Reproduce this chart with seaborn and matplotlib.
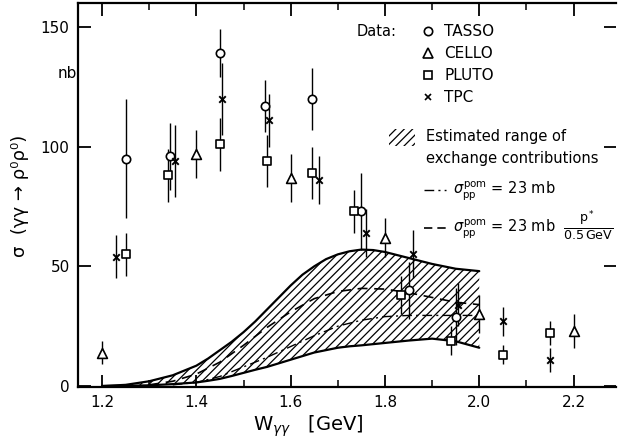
import numpy as np
import pandas as pd
import matplotlib
matplotlib.use("Agg")
import matplotlib.pyplot as plt
from matplotlib.patches import Rectangle
import seaborn as sns

# Measurements (W in GeV, sigma in nb, symmetric error)
tasso_w = [1.25, 1.345, 1.45, 1.545, 1.645, 1.75, 1.85, 1.95]
tasso_s = [95, 96, 139, 117, 120, 73, 40, 29]
tasso_e = [25, 14, 10, 11, 13, 16, 12, 12]

cello_w = [1.20, 1.40, 1.60, 1.80, 2.00, 2.20]
cello_s = [14, 97, 87, 62, 30, 23]
cello_e = [5, 10, 10, 8, 8, 7]

pluto_w = [1.25, 1.34, 1.45, 1.55, 1.645, 1.735, 1.835, 1.94, 2.05, 2.15]
pluto_s = [55, 88, 101, 94, 89, 73, 38, 19, 13, 22]
pluto_e = [9, 11, 11, 11, 11, 9, 8, 6, 4, 5]

tpc_w = [1.23, 1.355, 1.455, 1.555, 1.66, 1.76, 1.86, 1.955, 2.05, 2.15]
tpc_s = [54, 94, 120, 111, 86, 64, 55, 34, 27, 11]
tpc_e = [9, 15, 15, 11, 10, 10, 10, 9, 6, 5]

# Estimated range of exchange contributions
band_w = [1.20, 1.25, 1.30, 1.35, 1.40, 1.425, 1.45, 1.475, 1.50, 1.525, 1.55,
          1.575, 1.60, 1.625, 1.65, 1.675, 1.70, 1.725, 1.75, 1.775, 1.80,
          1.85, 1.90, 1.95, 2.00]
band_hi = [0, 0.5, 2, 4.5, 8.5, 11.5, 15, 18.5, 22.5, 27, 32, 37, 42, 46.5, 50,
           53, 55, 56.3, 57, 56.8, 56, 53.5, 51, 49, 48]
band_lo = [0, 0.1, 0.3, 0.8, 1.5, 2.2, 3, 4.2, 5.5, 6.8, 8, 9.5, 11, 12.5, 14,
           15, 16, 16.6, 17, 17.5, 18, 19, 19.8, 18.7, 16]

# sigma_pp^pom = 23 mb * p*/0.5 GeV (dashed)
dash_w = [1.30, 1.35, 1.40, 1.45, 1.50, 1.55, 1.60, 1.65, 1.70, 1.75,
          1.80, 1.85, 1.90, 1.95, 2.00]
dash_s = [0.5, 2, 5, 10, 17, 24.5, 31, 36.5, 39.5, 40.8, 40.5, 39, 37, 35, 34]

# sigma_pp^pom = 23 mb (dash-dot)
dashdot_w = [1.35, 1.40, 1.45, 1.50, 1.55, 1.60, 1.65, 1.70, 1.75,
             1.80, 1.85, 1.90, 1.95, 2.00]
dashdot_s = [0.5, 1.5, 4, 8, 12, 16.5, 21, 25, 27.5, 29, 29.5, 29.5, 29.5, 29.5]

sns.set_style("ticks")
plt.rcParams["font.family"] = ["DejaVu Sans"]
plt.rcParams["mathtext.fontset"] = "dejavusans"
plt.rcParams["hatch.linewidth"] = 0.9
for k in ["text.color", "axes.labelcolor", "axes.edgecolor", "xtick.color", "ytick.color"]:
    plt.rcParams[k] = "black"

W, H = 618, 447


def fx(px):
    return px / W


def fy(py):
    return 1 - py / H


fig = plt.figure(figsize=(W / 100, H / 100), dpi=100)
ax = fig.add_axes([fx(78), fy(387), 538 / W, 384 / H])

# hatched band + curves
ax.fill_between(band_w, band_lo, band_hi, facecolor="none", edgecolor="black",
                hatch="////", linewidth=0)
sns.lineplot(x=band_w, y=band_hi, color="black", lw=1.6, ax=ax)
sns.lineplot(x=band_w, y=band_lo, color="black", lw=1.6, ax=ax)
sns.lineplot(x=dash_w, y=dash_s, color="black", lw=1.2, ax=ax, linestyle=(0, (6, 4)))
sns.lineplot(x=dashdot_w, y=dashdot_s, color="black", lw=1.0, ax=ax,
             linestyle=(0, (7, 3, 1.5, 3)))

series = {
    "TASSO": (tasso_w, tasso_s, tasso_e, "o", 36),
    "CELLO": (cello_w, cello_s, cello_e, "^", 50),
    "PLUTO": (pluto_w, pluto_s, pluto_e, "s", 34),
    "TPC": (tpc_w, tpc_s, tpc_e, "x", 22),
}
for name, (w, s, e, m, size) in series.items():
    ax.errorbar(w, s, yerr=e, fmt="none", ecolor="black", elinewidth=1.0,
                capsize=0, zorder=3)
    df = pd.DataFrame({"w": w, "s": s})
    if m == "x":
        sns.scatterplot(data=df, x="w", y="s", marker="x", color="black", s=size,
                        linewidth=1.4, ax=ax, zorder=4)
    else:
        sns.scatterplot(data=df, x="w", y="s", marker=m, color="white",
                        edgecolor="black", s=size, linewidth=1.2, ax=ax, zorder=4)

ax.set_xlim(1.149, 2.29)
ax.set_ylim(-0.4, 160)
ax.set_xticks([1.2, 1.4, 1.6, 1.8, 2.0, 2.2])
ax.set_xticks([1.3, 1.5, 1.7, 1.9, 2.1], minor=True)
ax.set_yticks([0, 50, 100, 150])
ax.set_xlabel("")
ax.set_ylabel("")
ax.tick_params(which="major", direction="in", top=True, right=True, length=9,
               width=1.3, labelsize=11, pad=6)
ax.tick_params(which="minor", direction="in", top=True, length=5, width=1.1)
ax.spines["right"].set_visible(False)
for sp in ["left", "bottom", "top"]:
    ax.spines[sp].set_linewidth(1.6)

# axis titles
fig.text(fx(20), fy(196), "σ  (γγ → ρ⁰ρ⁰)", rotation=90, ha="center",
         va="center", fontsize=13)
fig.text(fx(67), fy(73), "nb", ha="center", va="center", fontsize=11)
fig.text(fx(308), fy(426), r"W$_{\gamma\gamma}$   [GeV]", ha="center",
         va="center", fontsize=14)

# key
fs = 10.5
fig.text(fx(357), fy(31), "Data:", ha="left", va="center", fontsize=fs)
key = [("TASSO", "o", 6.0, 31), ("CELLO", "^", 6.5, 53),
       ("PLUTO", "s", 5.5, 75), ("TPC", "x", 4.5, 97)]
for label, m, ms, py in key:
    ax.plot([fx(428)], [fy(py)], marker=m, ms=ms, mfc="white", mec="black",
            mew=1.2, transform=fig.transFigure, clip_on=False)
    fig.text(fx(444), fy(py), label, ha="left", va="center", fontsize=fs + 0.5)

fig.patches.append(Rectangle((fx(389), fy(146)), 26 / W, 17 / H, facecolor="none",
                             edgecolor="black", hatch="////", linewidth=0,
                             transform=fig.transFigure))
fig.text(fx(426), fy(137), "Estimated range of", ha="left", va="center", fontsize=fs)
fig.text(fx(426), fy(158), "exchange contributions", ha="left", va="center",
         fontsize=fs)

ax.plot([fx(424), fx(446)], [fy(190), fy(190)], color="black", lw=1.0,
        linestyle=(0, (7, 3, 1.5, 3)), transform=fig.transFigure, clip_on=False)
fig.text(fx(453), fy(190), r"$\sigma_{\mathrm{pp}}^{\mathrm{pom}}$ = 23 mb",
         ha="left", va="center", fontsize=fs)
ax.plot([fx(424), fx(446)], [fy(228), fy(228)], color="black", lw=1.2,
        linestyle=(0, (5, 3)), transform=fig.transFigure, clip_on=False)
fig.text(fx(453), fy(228), r"$\sigma_{\mathrm{pp}}^{\mathrm{pom}}$ = 23 mb",
         ha="left", va="center", fontsize=fs)
fig.text(fx(588), fy(226), r"$\frac{\mathrm{p}^*}{0.5\,\mathrm{GeV}}$",
         ha="center", va="center", fontsize=13)

fig.savefig("out.png", dpi=100)
